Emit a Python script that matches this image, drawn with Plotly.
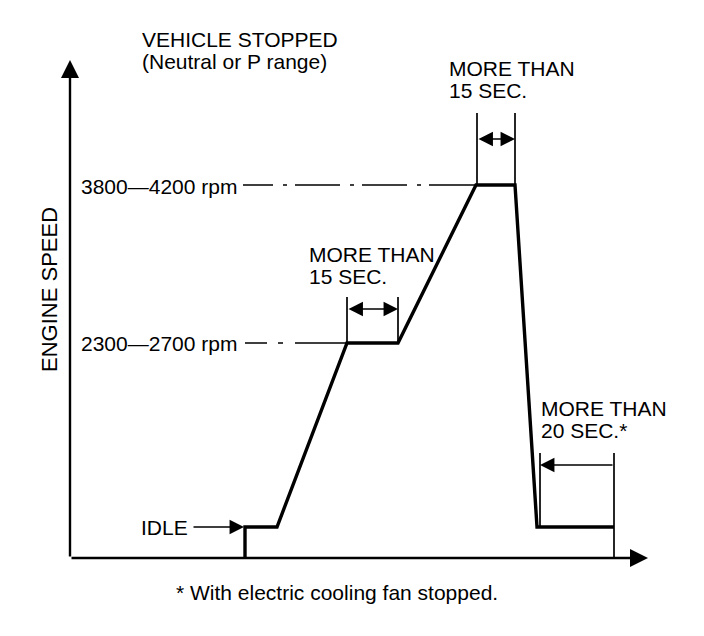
import plotly.graph_objects as go

# ---- data (schematic diagram units: time -> right, engine speed -> up) ----
profile_time = [175, 175, 207, 277, 328, 406, 445, 467, 544]
profile_speed = [0, 31, 31, 215, 215, 373, 373, 31, 31]

level_labels = ["3800—4200 rpm", "2300—2700 rpm"]
level_speed = [373, 215]
level_start = [173, 175]
level_end = [406, 277]

idle_label = "IDLE"
idle_speed = 31

hold_texts = [["MORE THAN", "15 SEC."], ["MORE THAN", "15 SEC."], ["MORE THAN", "20 SEC.*"]]
hold_start = [277, 407, 470]
hold_end = [328, 445, 544]
hold_base = [215, 373, 31]
hold_top = [261, 445, 105]
hold_arrow = [249, 419, 93]

axis_len_x = 578
axis_len_y = 498

title_lines = ["VEHICLE STOPPED", "(Neutral or P range)"]
y_title = "ENGINE SPEED"
footnote = "* With electric cooling fan stopped."

FONT = "Liberation Sans, Arial, sans-serif"
BLACK = "#000000"

fig = go.Figure()

# main engine speed profile
fig.add_trace(go.Scatter(x=profile_time, y=profile_speed, mode="lines",
                         line=dict(color=BLACK, width=3.4), hoverinfo="skip",
                         showlegend=False))

# dashed leader lines for speed levels
dashes = ["30px,10px,4px,8px,45px,10px,4px,8px,45px,10px,4px,8px,60px",
          "22px,11px,5px,12px,60px"]
for s, x0, x1, d in zip(level_speed, level_start, level_end, dashes):
    fig.add_trace(go.Scatter(x=[x0, x1], y=[s, s], mode="lines",
                             line=dict(color=BLACK, width=1.7, dash=d),
                             hoverinfo="skip", showlegend=False))

# dimension (extension) lines for hold periods
for i in range(3):
    xs = [hold_start[i], hold_start[i], None, hold_end[i], hold_end[i]]
    bot_end = 0 if i == 2 else hold_base[i]
    ys = [hold_base[i], hold_top[i], None, bot_end, hold_top[i]]
    fig.add_trace(go.Scatter(x=xs, y=ys, mode="lines",
                             line=dict(color=BLACK, width=1.7),
                             hoverinfo="skip", showlegend=False))

annotations = []

def arrow(x, y, ax, ay, width=1.7, size=1.7, side="end"):
    annotations.append(dict(x=x, y=y, ax=ax, ay=ay, xref="x", yref="y",
                            axref="x", ayref="y", text="", showarrow=True,
                            arrowhead=2, startarrowhead=2, arrowsize=size,
                            startarrowsize=size, arrowwidth=width,
                            arrowcolor=BLACK, arrowside=side, standoff=0,
                            startstandoff=0))

# axes with arrowheads
arrow(0, axis_len_y, 0, 0, width=2.4, size=1.5)
arrow(axis_len_x, 0, 0, 0, width=2.4, size=1.5)

# hold-period arrows
arrow(hold_end[0], hold_arrow[0], hold_start[0], hold_arrow[0], side="end+start")
arrow(hold_end[1], hold_arrow[1], hold_start[1], hold_arrow[1], side="end+start")
arrow(hold_start[2], hold_arrow[2], hold_end[2], hold_arrow[2])

# idle arrow
arrow(174, idle_speed, 122, idle_speed)


def text(x, y, t, angle=0, xanchor="left", size=21):
    annotations.append(dict(x=x, y=y, xref="x", yref="y", text=t,
                            showarrow=False, xanchor=xanchor, yanchor="middle",
                            textangle=angle,
                            font=dict(family=FONT, size=size, color=BLACK)))

text(70, 519, title_lines[0])
text(70, 497, title_lines[1])
text(9, level_speed[0] - 1, level_labels[0])
text(9, level_speed[1], level_labels[1])
text(69, idle_speed, idle_label)

hold_text_pos = [(237, 304), (377, 490), (469, 150)]
for (tx, ty), lines in zip(hold_text_pos, hold_texts):
    text(tx, ty, lines[0])
    text(tx, ty - 22, lines[1])

text(104, -34, footnote)
text(-21, 268, y_title, angle=-90, xanchor="center", size=22)

# the page body adds an 8 px offset; size and ranges compensate for it
fig.update_layout(
    width=696, height=628,
    margin=dict(l=0, r=0, t=0, b=0),
    paper_bgcolor="white", plot_bgcolor="white",
    xaxis=dict(range=[-62, 634], visible=False, fixedrange=True),
    yaxis=dict(range=[-78, 550], visible=False, fixedrange=True),
    annotations=annotations,
    showlegend=False,
)

fig.write_html("out.html")
